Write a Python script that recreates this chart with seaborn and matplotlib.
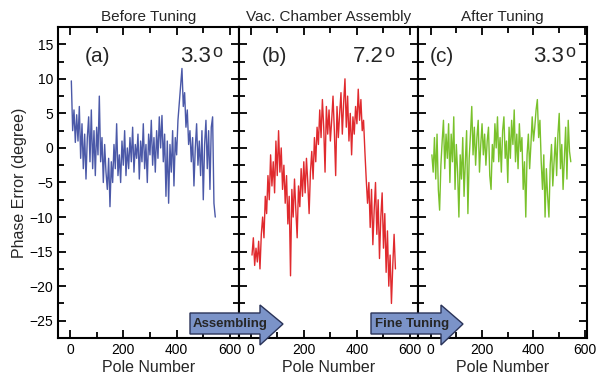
import numpy as np
import pandas as pd
import seaborn as sns
import matplotlib.pyplot as plt
from matplotlib.patches import Polygon
from matplotlib.ticker import MultipleLocator

# pole index (every 5th pole)
pole = list(range(5, 546, 5))

# phase error before tuning (deg)
before = [9.7, 2.5, 5.5, 0.8, 4.8, 1.0, 6.0, -1.5, 3.5, -3.0,
          2.0, -4.5, 1.5, 4.5, -2.0, 5.5, -3.0, 2.5, -4.0, 3.0,
          -1.0, 7.5, -2.0, 1.5, -5.0, 0.5, -3.5, -6.0, -1.5, -8.5,
          -2.0, -5.0, 0.5, -3.0, 3.5, -4.0, -1.0, -5.0, 1.0, -2.5,
          2.5, -4.0, 0.0, -3.0, 1.5, -2.0, 3.0, -3.5, 0.5, -1.5,
          2.0, -4.5, 1.0, -2.0, 3.5, -3.0, 0.5, -5.0, 2.0, -1.0,
          4.0, -2.5, 1.5, -3.5, 2.5, -1.5, 4.5, 0.0, 4.7, -2.0,
          2.0, -7.0, 1.0, -8.0, 0.5, -3.5, 2.5, -5.5, 1.5, -1.0,
          4.0, 6.5, 9.0, 11.5, 6.0, 8.0, 3.0, 5.5, 0.5, 2.5,
          -2.0, 1.5, -5.5, 0.0, 3.5, -2.5, 1.0, -4.0, 2.5, -7.5,
          0.5, 4.0, -3.0, 2.5, -6.0, 3.0, 4.5, -8.0, -10.0]

# phase error after vacuum chamber assembly (deg)
vac = [-15.5, -13.0, -17.0, -14.5, -16.5, -13.5, -17.5, -12.5, -10.0, -13.0,
       -7.0, -9.5, -4.0, -7.5, -1.0, -5.5, -2.0, -6.5, 1.0, -4.0,
       2.5, -3.5, 0.0, -6.0, -2.5, -8.0, -4.0, -11.0, -7.0, -18.5,
       -6.0, -10.0, -4.5, -9.0, -13.0, -5.5, -8.5, -3.0, -7.0, -2.0,
       -6.5, -1.5, -5.0, -9.5, -3.5, -0.5, -4.5, 1.5, -2.0, 3.0,
       0.5, 5.5, 1.5, 7.0, 3.0, -3.5, 6.0, 2.0, 5.5, 1.0,
       4.0, 7.5, 2.5, -4.0, 6.0, 1.5, 5.0, 8.0, 2.0, 6.5,
       10.0, 3.0, 7.5, 1.0, 5.0, -1.0, 4.5, 2.0, 6.0, 3.5,
       8.5, 4.0, 7.0, 2.5, 4.0, -0.5, -4.5, -8.0, -5.0, -11.5,
       -6.0, -14.0, -9.0, -5.0, -12.5, -7.5, -16.0, -10.0, -6.5, -14.5,
       -9.5, -18.0, -12.0, -20.0, -15.5, -22.5, -17.0, -12.5, -17.5]

# phase error after fine tuning (deg)
after = [-1.0, -3.5, 1.5, -4.5, 2.0, -6.0, -9.0, -2.5, 1.0, 4.0,
         -3.0, 2.0, -1.5, 3.5, -5.0, 2.0, -2.0, 4.5, -6.0, 0.5,
         -3.5, -10.0, -1.0, -4.5, 1.5, -7.0, -2.0, 2.5, -9.5, -1.5,
         2.0, 6.0, -1.0, 3.0, -2.5, 1.5, 4.0, -3.5, 0.5, 3.5,
         -1.0, 2.0, -2.5, 1.0, 3.0, -4.0, -6.0, 0.5, -2.0, 3.5,
         0.0, 4.5, -2.0, 1.5, -3.5, 2.5, 4.5, -1.5, 1.0, -5.0,
         3.0, -1.5, 4.0, 0.5, 5.5, -2.0, 2.0, -3.0, 3.5, -0.5,
         1.5, -6.0, -2.0, -10.0, -1.0, 2.0, -3.0, 0.5, 4.5, 1.0,
         3.0, 5.5, 7.0, 1.5, 4.0, -2.0, -6.0, -1.0, -10.0, -3.0,
         -7.0, -10.0, -2.5, 0.5, -5.5, -2.0, 1.5, -4.0, 2.0, 5.0,
         -3.0, 0.5, -6.0, -1.5, 3.0, -4.5, 4.0, -0.5, -2.0]

titles = ["Before Tuning", "Vac. Chamber Assembly", "After Tuning"]
labels = ["(a)", "(b)", "(c)"]
rms = ["3.3", "7.2", "3.3"]
colors = ["#4b59a8", "#e02a2e", "#79c12b"]
series = [before, vac, after]

sns.set_style("ticks")
plt.rcParams['font.family'] = ['Liberation Sans', 'DejaVu Sans']

fig = plt.figure(figsize=(5.97, 3.83), dpi=100)
W, H = 597, 383
# panel extents in pixels: (left, right)
boxes = [(58, 239), (239, 418), (418, 587)]
xlims = [(-45, 634), (-44, 630), (-49, 608)]
label_x = [0.15, 0.128, 0.071]
rms_x = [0.906, 0.87, 0.929]
top, bottom = 27, 338

axes = []
for i in range(3):
    l, r = boxes[i]
    ax = fig.add_axes([l / W, 1 - bottom / H, (r - l) / W, (bottom - top) / H])
    df = pd.DataFrame({"pole": pole, "err": series[i]})
    sns.lineplot(data=df, x="pole", y="err", ax=ax, color=colors[i], lw=1.0)
    ax.set_xlim(*xlims[i])
    ax.set_ylim(-27.5, 17.5)
    ax.xaxis.set_major_locator(MultipleLocator(200))
    ax.xaxis.set_minor_locator(MultipleLocator(100))
    ax.yaxis.set_major_locator(MultipleLocator(5))
    ax.yaxis.set_minor_locator(MultipleLocator(2.5))
    ax.tick_params(which="both", direction="in", top=True, right=True,
                   width=1.3, colors="black", labelsize=10)
    ax.tick_params(which="major", length=6)
    ax.tick_params(which="minor", length=4)
    for s in ax.spines.values():
        s.set_linewidth(1.5)
        s.set_color("black")
    ax.set_xlabel("Pole Number", fontsize=11.5, labelpad=2)
    if i == 0:
        ax.set_ylabel("Phase Error (degree)", fontsize=11.5, labelpad=2)
    else:
        ax.set_ylabel("")
        ax.tick_params(axis="y", labelleft=False)
    ax.set_title(titles[i], fontsize=11, pad=4)
    ax.text(label_x[i], 0.905, labels[i], transform=ax.transAxes,
            fontsize=15, ha="left", va="center")
    # rms value with a raised "o" as degree sign
    ax.annotate(rms[i], xy=(rms_x[i], 0.905), xycoords="axes fraction",
                xytext=(-11, 0), textcoords="offset pixels",
                fontsize=16, ha="right", va="center")
    ax.annotate("o", xy=(rms_x[i], 0.905), xycoords="axes fraction",
                xytext=(0, 4), textcoords="offset pixels",
                fontsize=13, ha="right", va="center")
    axes.append(ax)

# process arrows drawn on an overlay in pixel coordinates
ov = fig.add_axes([0, 0, 1, 1], zorder=10)
ov.set_xlim(0, W)
ov.set_ylim(H, 0)
ov.axis("off")
ov.patch.set_alpha(0)

arrows = [("Assembling", 190, 260, 283, 230), ("Fine Tuning", 371, 441, 463, 412)]
for txt, x0, xh, xt, xc in arrows:
    pts = [(x0, 313), (xh, 313), (xh, 305), (xt, 324), (xh, 345), (xh, 334), (x0, 334)]
    ov.add_patch(Polygon(pts, closed=True, facecolor="#7b93c8",
                         edgecolor="#2a3358", lw=1.0))
    ov.text(xc, 324, txt, fontsize=9.5, fontweight="bold", ha="center", va="center")

fig.savefig("out.png", dpi=100)
